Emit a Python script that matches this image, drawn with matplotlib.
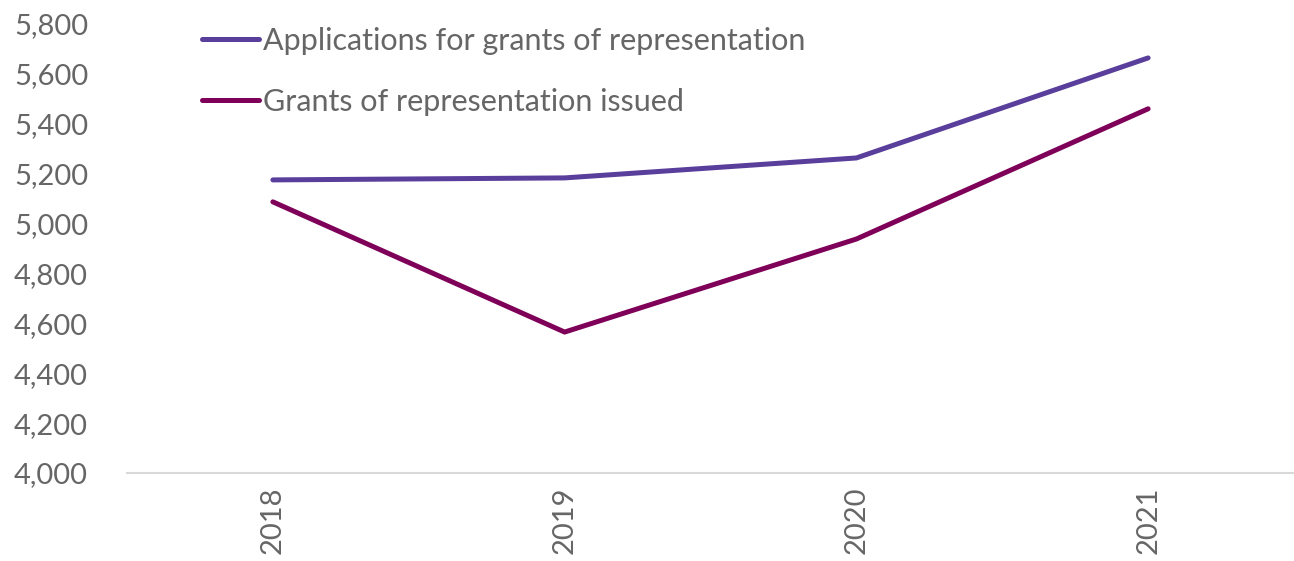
import matplotlib
matplotlib.use("Agg")
import matplotlib.pyplot as plt
from matplotlib.ticker import FuncFormatter

# Yearly counts
years = ["2018", "2019", "2020", "2021"]
applications = [5175, 5183, 5263, 5664]
grants_issued = [5087, 4565, 4938, 5460]

plt.rcParams["font.family"] = ["Lato", "DejaVu Sans"]

fig = plt.figure(figsize=(12.94, 5.61), dpi=100)
ax = fig.add_axes([127 / 1294, 1 - 473 / 561, 1 - 127 / 1294, (473 - 24) / 561])

x = range(len(years))
ax.plot(x, applications, color="#5a3e9b", lw=3.6, solid_capstyle="round",
        label="Applications for grants of representation")
ax.plot(x, grants_issued, color="#7f0058", lw=3.6, solid_capstyle="round",
        label="Grants of representation issued")

ax.set_xlim(-0.5, len(years) - 0.5)
ax.set_ylim(4000, 5800)
ax.set_yticks(range(4000, 5801, 200))
ax.yaxis.set_major_formatter(FuncFormatter(lambda v, p: f"{int(v):,}"))
ax.set_xticks(list(x))
ax.set_xticklabels(years, rotation=90)

for side in ["left", "right", "top"]:
    ax.spines[side].set_visible(False)
ax.spines["bottom"].set_color("#d9d9d9")
ax.spines["bottom"].set_linewidth(1.5)
ax.tick_params(axis="both", length=0, labelsize=21, labelcolor="#666666")
ax.tick_params(axis="y", pad=28)
ax.tick_params(axis="x", pad=10)

leg = ax.legend(loc="upper left", bbox_to_anchor=(0.0643, 0.993), frameon=False,
                fontsize=22, handlelength=1.85, handletextpad=0.13,
                labelspacing=1.08, borderpad=0, borderaxespad=0,
                labelcolor="#666666")

fig.savefig("out.png", dpi=100)
